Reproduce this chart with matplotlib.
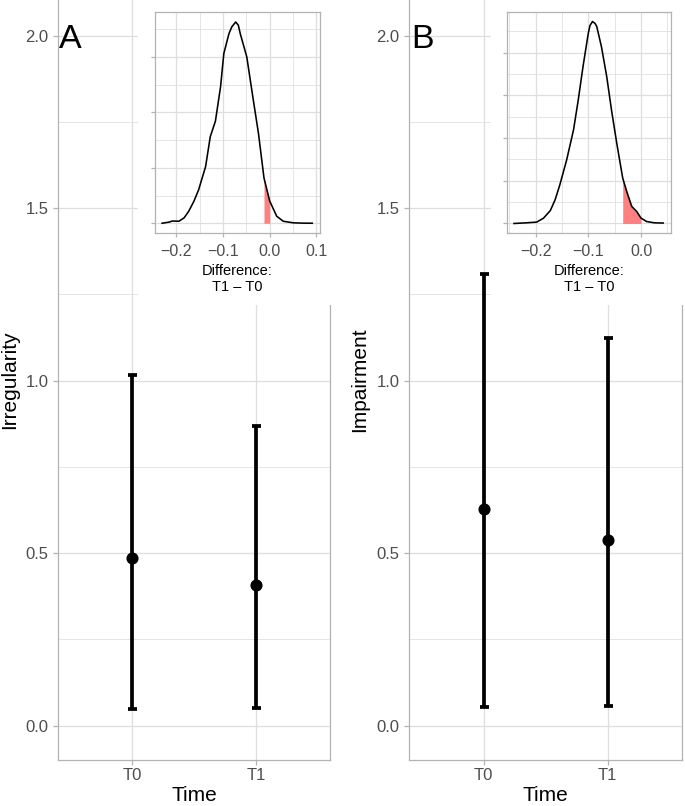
import matplotlib
matplotlib.use("Agg")
import matplotlib.pyplot as plt
import numpy as np
from matplotlib.patches import Rectangle
from matplotlib.ticker import FuncFormatter

plt.rcParams['font.family'] = ['Liberation Sans', 'DejaVu Sans']

# ---------------- data ----------------
times = ["T0", "T1"]

irr_mean = [0.485, 0.409]
irr_low = [0.049, 0.052]
irr_high = [1.016, 0.870]

imp_mean = [0.628, 0.538]
imp_low = [0.055, 0.057]
imp_high = [1.308, 1.125]

diffA_x = [-0.230, -0.215, -0.208, -0.194, -0.183, -0.173, -0.162, -0.152, -0.137, -0.127,
           -0.116, -0.105, -0.098, -0.087, -0.081, -0.0727, -0.067, -0.063, -0.049, -0.035,
           -0.024, -0.0122, 0.0, 0.015, 0.029, 0.050, 0.070, 0.091]
diffA_y = [0.0, 0.1, 0.2, 0.18, 0.48, 1.08, 1.98, 3.0, 5.1, 7.8,
           9.2, 12.3, 15.3, 17.1, 17.7, 18.14, 17.85, 17.1, 15.0, 11.1,
           8.1, 4.08, 2.0, 0.63, 0.18, 0.04, 0.01, 0.0]
diffA_shade = (-0.0122, 0.0)

diffB_x = [-0.241, -0.217, -0.198, -0.185, -0.172, -0.163, -0.154, -0.141, -0.128, -0.119,
           -0.110, -0.100, -0.0968, -0.092, -0.0873, -0.084, -0.075, -0.065, -0.056, -0.046,
           -0.0347, -0.0271, -0.0176, -0.0082, 0.0, 0.0108, 0.025, 0.042]
diffB_y = [0.0, 0.08, 0.16, 0.62, 1.52, 2.77, 4.53, 7.46, 10.98, 14.5,
           18.4, 22.3, 23.2, 23.67, 23.45, 23.1, 20.7, 17.2, 13.3, 9.4,
           5.32, 3.75, 2.0, 1.41, 0.63, 0.23, 0.08, 0.05]
diffB_shade = (-0.0347, 0.0)

main_yticks = [0.0, 0.5, 1.0, 1.5, 2.0]
main_yminor = [0.25, 0.75, 1.25, 1.75]

# ---------------- style ----------------
W, H = 685, 806
GRID = '#DEDEDE'
BORDER = '#B3B3B3'
TICKLAB = '#4D4D4D'
SHADE = '#FF8080'

fig = plt.figure(figsize=(W / 100, H / 100), dpi=100)
fig.patch.set_facecolor('white')


def px_rect(left, top, right, bottom):
    return [left / W, 1 - bottom / H, (right - left) / W, (bottom - top) / H]


def fmt1(v, pos=None):
    if abs(v) < 1e-9:
        v = 0.0
    return f"{v:.1f}".replace('-', '\u2212')


def main_panel(rect, mean, low, high):
    ax = fig.add_axes(rect, zorder=0)
    xs = np.arange(1, len(times) + 1)
    mean = np.array(mean)
    yerr = [mean - np.array(low), np.array(high) - mean]
    ax.errorbar(xs, mean, yerr=yerr, fmt='o', color='black', ms=7.7,
                elinewidth=2.7, capsize=3.24, capthick=2.7, zorder=3)
    ax.set_xlim(0.4, 2.6)
    ax.set_ylim(-0.0993, 2.103)
    ax.set_xticks(xs)
    ax.set_xticklabels(times)
    ax.set_yticks(main_yticks)
    ax.set_yticks(main_yminor, minor=True)
    ax.yaxis.set_major_formatter(FuncFormatter(fmt1))
    ax.grid(which='major', color=GRID, lw=0.9)
    ax.grid(which='minor', axis='y', color=GRID, lw=0.55)
    ax.set_axisbelow(True)
    for s in ax.spines.values():
        s.set_color(BORDER)
        s.set_linewidth(0.9)
    ax.spines['top'].set_visible(False)
    ax.tick_params(which='major', color=BORDER, length=3.6, width=0.9,
                   labelsize=12, labelcolor=TICKLAB)
    ax.tick_params(axis='y', pad=3.4)
    ax.tick_params(axis='x', pad=2.0)
    ax.tick_params(which='minor', length=0)
    return ax


def inset_panel(rect, x, y, shade, xlim, ylim, xticks, xminor, yticks, yminor):
    ax = fig.add_axes(rect, zorder=3)
    ax.set_facecolor('white')
    xa = np.array(x)
    ya = np.array(y)
    m = (xa >= shade[0] - 1e-9) & (xa <= shade[1] + 1e-9)
    ax.fill_between(xa[m], 0, ya[m], color=SHADE, lw=0, zorder=1.5)
    ax.plot(xa, ya, color='black', lw=1.15, zorder=2, solid_joinstyle='round')
    ax.set_xlim(*xlim)
    ax.set_ylim(*ylim)
    ax.set_xticks(xticks)
    ax.set_xticks(xminor, minor=True)
    ax.set_yticks(yticks)
    ax.set_yticks(yminor, minor=True)
    ax.xaxis.set_major_formatter(FuncFormatter(fmt1))
    ax.set_yticklabels([])
    ax.grid(which='major', color=GRID, lw=0.9)
    ax.grid(which='minor', color=GRID, lw=0.55)
    ax.set_axisbelow(True)
    for s in ax.spines.values():
        s.set_color(BORDER)
        s.set_linewidth(0.9)
    ax.tick_params(which='major', color=BORDER, length=3.2, width=0.9,
                   labelsize=11.5, labelcolor=TICKLAB)
    ax.tick_params(axis='x', pad=4.5)
    ax.tick_params(which='minor', length=0)
    return ax


# main panels
axA = main_panel(px_rect(58, 0, 330, 760), irr_mean, irr_low, irr_high)
axB = main_panel(px_rect(409, 0, 682.3, 760), imp_mean, imp_low, imp_high)

# white backgrounds behind the insets
fig.patches.append(Rectangle((138 / W, 1 - 305 / H), (345 - 138) / W, 305 / H + 0.01,
                             transform=fig.transFigure, facecolor='white',
                             edgecolor='none', zorder=1))
fig.patches.append(Rectangle((490.7 / W, 1 - 305 / H), (W - 490.7) / W + 0.01, 305 / H + 0.01,
                             transform=fig.transFigure, facecolor='white',
                             edgecolor='none', zorder=1))

# insets
inset_panel(px_rect(155, 12, 320, 233), diffA_x, diffA_y, diffA_shade,
            (-0.2451, 0.1075), (-0.88, 19.04),
            [-0.2, -0.1, 0.0, 0.1], [-0.15, -0.05, 0.05],
            [0, 5, 10, 15], [2.5, 7.5, 12.5, 17.5])
inset_panel(px_rect(506.7, 11.7, 671, 233.3), diffB_x, diffB_y, diffB_shade,
            (-0.2548, 0.0569), (-1.15, 24.82),
            [-0.2, -0.1, 0.0], [-0.25, -0.15, -0.05, 0.05],
            [0, 5, 10, 15, 20], [2.5, 7.5, 12.5, 17.5, 22.5])

# inset x titles
for cx in [(155 + 320) / 2, (506.7 + 671) / 2]:
    fig.text(cx / W, 1 - 275 / H, 'Difference:', ha='center', va='baseline',
             fontsize=10.5, color='black', zorder=5)
    fig.text(cx / W, 1 - 291 / H, 'T1 \u2013 T0', ha='center', va='baseline',
             fontsize=10.5, color='black', zorder=5)

# axis titles
fig.text(194 / W, 1 - 801 / H, 'Time', ha='center', va='baseline', fontsize=15)
fig.text(545.6 / W, 1 - 801 / H, 'Time', ha='center', va='baseline', fontsize=15)
fig.text(10 / W, 1 - 380 / H, 'Irregularity', ha='center', va='center',
         rotation=90, fontsize=15)
fig.text(360 / W, 1 - 380 / H, 'Impairment', ha='center', va='center',
         rotation=90, fontsize=15)

# panel tags
fig.text(59 / W, 1 - 48.3 / H, 'A', ha='left', va='baseline', fontsize=24.5, zorder=6)
fig.text(411.5 / W, 1 - 48.3 / H, 'B', ha='left', va='baseline', fontsize=24.5, zorder=6)

fig.savefig('out.png', dpi=100, facecolor='white')
